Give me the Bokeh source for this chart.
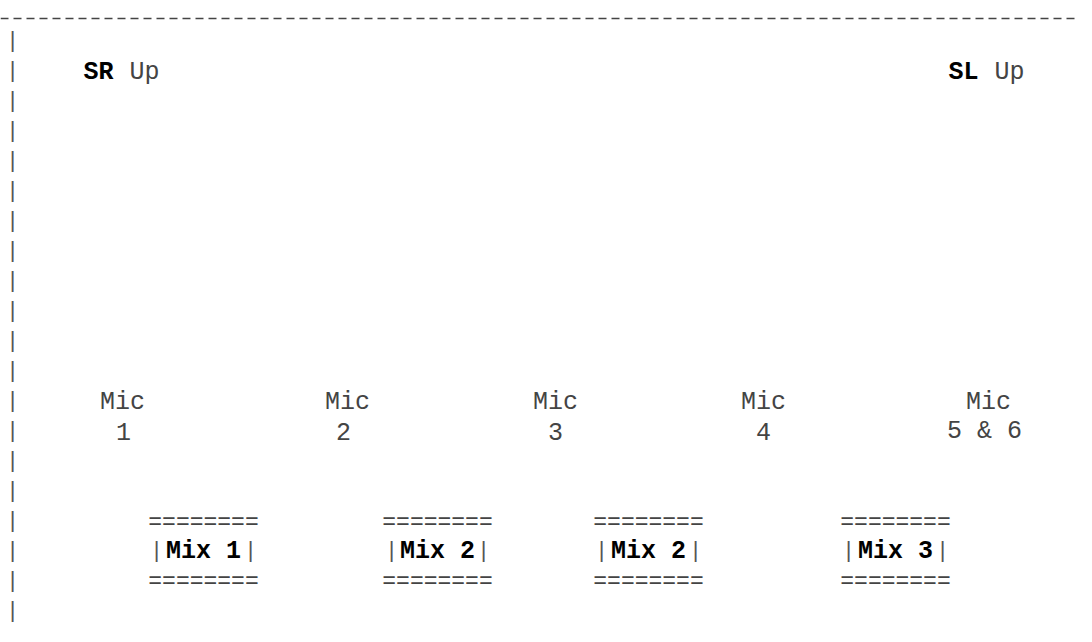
from bokeh.plotting import figure
from bokeh.models import Range1d
from bokeh.core.properties import value
from bokeh.embed import file_html
from bokeh.resources import INLINE

# ---- content (text of the diagram) ----
corner_bold = ["SR", "SL"]
corner_rest = ["Up", "Up"]
mic_words = ["Mic", "Mic", "Mic", "Mic", "Mic"]
mic_numbers = ["1", "2", "3", "4", "5 & 6"]
mix_labels = ["Mix 1", "Mix 2", "Mix 2", "Mix 3"]
border_rows = 20

W, H = 1076, 626
FONT = value("Liberation Mono")
FS = "25px"

corner_x = [83, 948]
corner_rest_x = [129, 994]
corner_y = 72
mic_x = [122, 347, 555, 763, 988]
num_x = [123, 343, 555, 763, 984]
mic_y = 402
num_y = 431
mix_x = [203, 437, 648, 895]
mix_y = 551
eq_top_y = 522
eq_bot_y = 581
bar_half = [47, 46, 47, 47]
row0_y = 41
row_step = 30
left_bar_x = 12
dash_y = 18

p = figure(width=W, height=H, output_backend="svg", toolbar_location=None,
           x_range=Range1d(0, W), y_range=Range1d(H, 0),
           min_border=0, outline_line_color=None, background_fill_color="white",
           border_fill_color="white")
p.xaxis.visible = False
p.yaxis.visible = False
p.grid.visible = False

# top dashed rule
p.segment(x0=[0], y0=[dash_y], x1=[W], y1=[dash_y],
          line_color="#444444", line_width=1.3, line_dash="8 5")

# left border of pipes
rows_y = [row0_y + row_step * k for k in range(border_rows)]
p.text(x=[left_bar_x] * border_rows, y=rows_y, text=["|"] * border_rows,
       text_font=FONT, text_font_size="22px", text_color="#555555",
       text_align="center", text_baseline="middle")

# corner labels
p.text(x=corner_x, y=[corner_y] * 2, text=corner_bold,
       text_font=FONT, text_font_size=FS, text_font_style="bold", text_color="black",
       text_align="left", text_baseline="middle")
p.text(x=corner_rest_x, y=[corner_y] * 2, text=corner_rest,
       text_font=FONT, text_font_size=FS, text_color="#444444",
       text_align="left", text_baseline="middle")

# microphones
p.text(x=mic_x, y=[mic_y] * len(mic_x), text=mic_words,
       text_font=FONT, text_font_size=FS, text_color="#444444",
       text_align="center", text_baseline="middle")
p.text(x=num_x, y=[num_y] * len(num_x), text=mic_numbers,
       text_font=FONT, text_font_size=FS, text_color="#444444",
       text_align="center", text_baseline="middle")

# mix boxes
n = len(mix_labels)
p.text(x=mix_x, y=[eq_top_y] * n, text=["=" * 8] * n,
       text_font=FONT, text_font_size="23px", text_color="#444444",
       text_align="center", text_baseline="middle")
p.text(x=mix_x, y=[eq_bot_y] * n, text=["=" * 8] * n,
       text_font=FONT, text_font_size="23px", text_color="#444444",
       text_align="center", text_baseline="middle")
p.text(x=mix_x, y=[mix_y] * n, text=mix_labels,
       text_font=FONT, text_font_size=FS, text_font_style="bold", text_color="black",
       text_align="center", text_baseline="middle")
p.text(x=[x - h for x, h in zip(mix_x, bar_half)], y=[mix_y] * n, text=["|"] * n,
       text_font=FONT, text_font_size="22px", text_color="#555555",
       text_align="center", text_baseline="middle")
p.text(x=[x + h for x, h in zip(mix_x, bar_half)], y=[mix_y] * n, text=["|"] * n,
       text_font=FONT, text_font_size="22px", text_color="#555555",
       text_align="center", text_baseline="middle")

open("out.html", "w").write(file_html(p, INLINE))
